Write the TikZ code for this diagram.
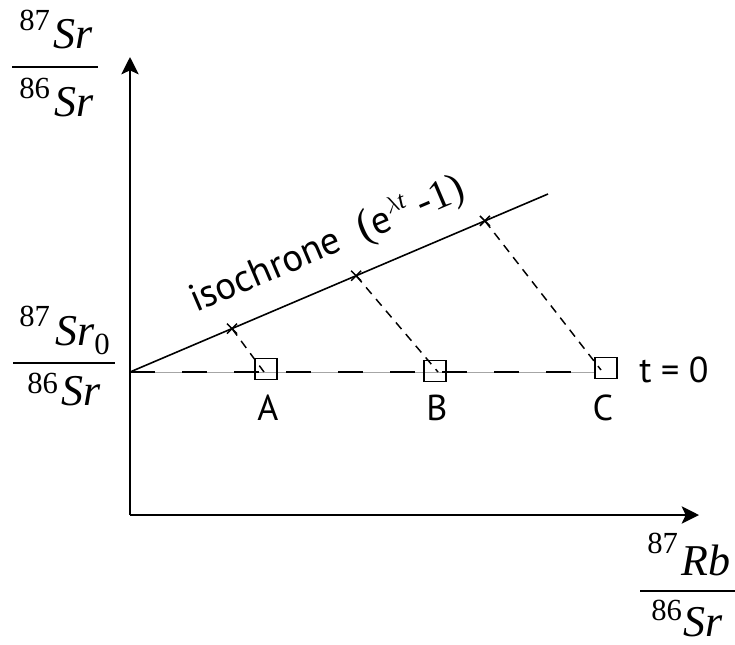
\documentclass[tikz,border=0pt]{standalone}
\usepackage{fontspec}
\setmainfont{Liberation Serif}
\newfontfamily\labfont{PT Sans}
\usetikzlibrary{arrows.meta}
\begin{document}
\begin{tikzpicture}[x=0.75pt,y=-0.75pt,
  big/.style={inner sep=0pt, font=\fontsize{33}{38}\selectfont\itshape},
  supnum/.style={inner sep=0pt, font=\fontsize{23}{26}\selectfont},
  lab/.style={inner sep=0pt, font=\labfont\fontsize{27}{30}\selectfont},
  axis/.style={line width=1.5pt, -{Stealth[length=13pt,width=13pt,inset=3pt]}},
  bar/.style={line width=1pt},
  sq/.style={draw, line width=1.1pt, minimum width=16.5pt, minimum height=15.5pt, inner sep=0pt},
  conn/.style={line width=1.1pt, dash pattern=on 6.5pt off 5pt},
  xmark/.style={line width=1.1pt}
]
\useasboundingbox (0,0) rectangle (735,644);
% axes
\coordinate (O) at (130,515);
\coordinate (ytip) at (130,57);
\coordinate (xtip) at (699,515);
\draw[axis] (O) -- (ytip);
\draw[axis] (O) -- (xtip);
% horizontal t=0 line
\coordinate (o) at (130,372);
\coordinate (hend) at (596,372);
\draw[gray!70, line width=0.6pt] (o) -- (hend);
\draw[line width=1.4pt, dash pattern=on 19pt off 20pt] (o) -- (hend);
% isochrone
\coordinate (iend) at (548,194);
\draw[line width=1.2pt] (o) -- (iend);
\path (o) -- (iend) coordinate[pos=0.244] (m1) coordinate[pos=0.541] (m2) coordinate[pos=0.849] (m3);
\foreach \m in {m1,m2,m3}{
  \draw[xmark] ([shift={(-5,-5)}]\m) -- ([shift={(5,5)}]\m);
  \draw[xmark] ([shift={(-5,5)}]\m) -- ([shift={(5,-5)}]\m);
}
% squares
\node[sq] (sqA) at (266,369) {};
\node[sq] (sqB) at (435,371) {};
\node[sq] (sqC) at (606,368) {};
\coordinate (eA) at (264,372);
\coordinate (eB) at (438,372);
\coordinate (eC) at (601,370);
\draw[conn] (m1) -- (eA);
\draw[conn] (m2) -- (eB);
\draw[conn] (m3) -- (eC);
% labels
\node[lab] (A) at (268,408) {A};
\node[lab] (B) at (437,408) {B};
\node[lab] (C) at (603,408) {C};
\node[lab, anchor=west] (t0) at (639,370) {t = 0};
\node[inner sep=0pt, anchor=base west, rotate=23.07, font=\labfont\fontsize{29}{32}\selectfont] (iso) at (196,313)
  {isochrone\ \ {\rmfamily\fontsize{33}{36}\selectfont(}e{\raisebox{11pt}{\fontsize{19}{20}\selectfont$\lambda$\rmfamily\itshape t}}\ {\rmfamily\fontsize{31}{36}\selectfont -1)}};
% y-axis label
\node[supnum, anchor=base west] (ya) at (19,30) {87};
\node[big, anchor=base west] (yb) at (53,48) {Sr};
\coordinate (yl1) at (12,67); \coordinate (yl2) at (98,67);
\draw[bar] (yl1) -- (yl2);
\node[supnum, anchor=base west] (yc) at (19,98) {86};
\node[big, anchor=base west] (yd) at (54,116) {Sr};
% Sr0 label
\node[supnum, anchor=base west] (sa) at (19,326) {87};
\node[big, anchor=base west] (sb) at (55,345) {Sr$_{\mathrm{0}}$};
\coordinate (sl1) at (13,363); \coordinate (sl2) at (115,363);
\draw[bar] (sl1) -- (sl2);
\node[supnum, anchor=base west] (sc) at (27,393) {86};
\node[big, anchor=base west] (sd) at (61,405) {Sr};
% x-axis label
\node[supnum, anchor=base west] (xa) at (647,553) {87};
\node[big, anchor=base west] (xb) at (681,575) {Rb};
\coordinate (xl1) at (640,591); \coordinate (xl2) at (735,591);
\draw[bar] (xl1) -- (xl2);
\node[supnum, anchor=base west] (xc) at (651,620) {86};
\node[big, anchor=base west] (xd) at (683,636) {Sr};
\end{tikzpicture}
\end{document}
